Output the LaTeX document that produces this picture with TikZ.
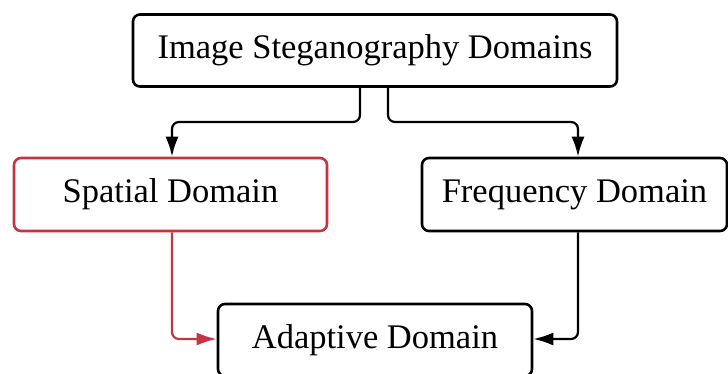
\documentclass[tikz,border=0pt]{standalone}
\usepackage{fontspec}
\setmainfont{Liberation Serif}
\usetikzlibrary{arrows.meta}
\definecolor{spatialred}{RGB}{196,52,66}
\begin{document}
\begin{tikzpicture}[x=1pt,y=-1pt,
  box/.style={draw=black, line width=2.6pt, rounded corners=7pt, fill=white,
    font=\fontsize{34.5}{38}\selectfont, inner sep=0pt},
  link/.style={line width=2.2pt, rounded corners=7pt,
    -{Latex[length=20pt,width=13pt]}}]
  \useasboundingbox (0,0) rectangle (728,374);
  % the four domain boxes
  \node[box, minimum width=484pt, minimum height=72pt] (top) at (375,50.5) {Image Steganography Domains};
  \node[box, draw=spatialred, minimum width=313pt, minimum height=73pt] (spatial) at (170.5,194.5) {Spatial Domain};
  \node[box, minimum width=305pt, minimum height=73pt] (freq) at (574.5,194.5) {Frequency Domain};
  \node[box, minimum width=314pt, minimum height=72pt] (adapt) at (375,340) {Adaptive Domain};
  % connectors
  \draw[link] (top.south -| 360,0) |- (172,122) -- (spatial.north -| 172,0);
  \draw[link] (top.south -| 388,0) |- (578,122) -- (freq.north -| 578,0);
  \draw[link, draw=spatialred] (spatial.south -| 172,0) |- (adapt.west |- 0,339);
  \draw[link] (freq.south -| 578,0) |- (adapt.east |- 0,339);
\end{tikzpicture}
\end{document}
